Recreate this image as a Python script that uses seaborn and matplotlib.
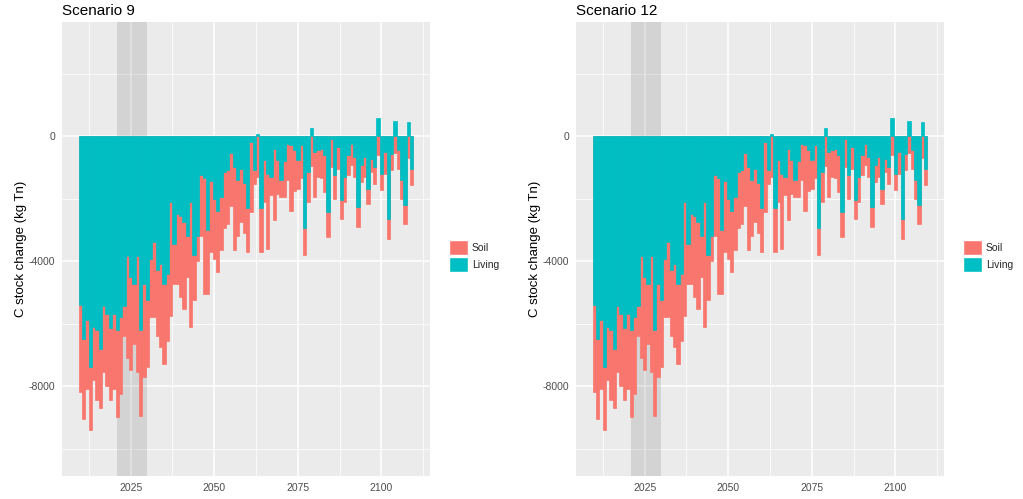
import numpy as np
import pandas as pd
import matplotlib
matplotlib.use('Agg')
import matplotlib.pyplot as plt
from matplotlib.patches import Patch
import seaborn as sns

# Yearly carbon stock change (kg Tn)
years = list(range(2010, 2110))
living = [
    -5400, -6500, -5900, -7400, -6100, -6200, -6800, -5450, -5700, -6150,
    -5700, -6200, -5800, -5450, -3850, -4500, -4750, -3850, -6200, -4750,
    -5250, -3950, -3400, -4300, -4100, -4750, -4400, -2100, -3450, -2500,
    -2550, -2750, -3200, -2100, -3800, -3200, -1250, -1350, -3000, -1450,
    -2000, -2400, -1950, -1150, -1100, -550, -1000, -1400, -1050, -1500,
    -2300, -180, -1090, 80, -2300, -770, -1200, -1300, -400, -770,
    -1400, -800, -250, -300, -450, -770, -300, -2950, -1150, 250,
    -500, -450, -400, -600, -2420, -80, -1250, -340, -2050, -1300,
    -610, -240, -660, -2260, -930, -660, -1680, -720, -980, 565,
    -1200, -500, -2640, -560, 490, -450, -1410, -2210, 460, -1040,
]
soil = [
    -2800, -2550, -2200, -2000, -1700, -2250, -1900, -2100, -2300, -2300,
    -2400, -2800, -2450, -950, -3250, -3000, -1900, -3700, -2750, -2950,
    -2150, -1850, -2400, -2100, -2650, -2550, -2150, -3650, -1300, -2250,
    -2600, -2800, -1300, -4000, -1450, -800, -1950, -3700, -2050, -2250,
    -1950, -1950, -1700, -1800, -1700, -1700, -2650, -1800, -1700, -1600,
    -1400, -2240, -430, -1300, -1400, -1330, -2400, -600, -2300, -1080,
    -550, -1150, -1150, -2100, -1300, -910, -1050, -850, -950, -950,
    -1450, -850, -950, -1180, -800, -900, -750, -700, -590, -800,
    -640, -690, -640, -640, -530, -640, -480, -420, -540, -600,
    -530, -700, -640, -530, -550, -590, -590, -590, -700, -530,
]
scenarios = ["Scenario 9", "Scenario 12"]
window = (2021, 2030)

SOIL_COLOR = "#F8766D"
LIVING_COLOR = "#00BFC4"

sns.set_theme(style="darkgrid")
plt.rcParams['font.family'] = ['Liberation Sans', 'DejaVu Sans']
plt.rcParams['axes.unicode_minus'] = False

df = pd.DataFrame({"year": years, "Living": living, "Soil": soil})
# negative parts stack downward from zero: living first, soil below it
df["below"] = df["Living"].clip(upper=0) + df["Soil"].clip(upper=0)

fig = plt.figure(figsize=(10.23, 4.99), dpi=100)
W, H = 1023, 499
panel_left = [62, 576]
legend_left = [449, 963]


def draw_panel(ax, title):
    ax.set_facecolor("#EBEBEB")
    ax.axvspan(*window, color="black", alpha=0.1, lw=0, zorder=0.6)
    sns.barplot(data=df, x="year", y="below", native_scale=True, width=1,
                color=SOIL_COLOR, saturation=1, errorbar=None,
                edgecolor=SOIL_COLOR, linewidth=0.5, ax=ax, zorder=2)
    sns.barplot(data=df, x="year", y="Living", native_scale=True, width=1,
                color=LIVING_COLOR, saturation=1, errorbar=None,
                edgecolor=LIVING_COLOR, linewidth=0.5, ax=ax, zorder=3)
    ax.set_xlim(2004.5, 2114.5)
    ax.set_ylim(-10880, 3650)
    ax.set_xticks([2025, 2050, 2075, 2100])
    ax.set_xticks([2012.5, 2037.5, 2062.5, 2087.5, 2112.5], minor=True)
    ax.set_yticks([-8000, -4000, 0])
    ax.set_yticks([-10000, -6000, -2000, 2000], minor=True)
    ax.set_yticklabels(["-8000", "-4000", "0"])
    ax.grid(which="major", color="white", lw=1.1, zorder=0.5)
    ax.grid(which="minor", color="white", lw=0.55, zorder=0.5)
    ax.set_axisbelow(True)
    ax.tick_params(which="major", length=3.5, width=0.8, color="#333333",
                   labelcolor="#4D4D4D", labelsize=7.5, pad=1.5)
    ax.tick_params(which="minor", length=0)
    for s in ax.spines.values():
        s.set_visible(False)
    ax.set_xlabel("")
    ax.set_ylabel("C stock change (kg Tn)", fontsize=9.5, color="black", labelpad=1)
    ax.set_title(title, loc="left", fontsize=11, pad=5, color="black")


for i, name in enumerate(scenarios):
    ax = fig.add_axes([panel_left[i] / W, 23 / H, 368 / W, 454 / H])
    draw_panel(ax, name)
    handles = [Patch(facecolor=SOIL_COLOR, label="Soil"),
               Patch(facecolor=LIVING_COLOR, label="Living")]
    fig.legend(handles=handles, loc="center left",
               bbox_to_anchor=(legend_left[i] / W, 1 - 256 / H),
               frameon=False, fontsize=7.5, handlelength=1.8, handleheight=1.8,
               handletextpad=0.4, labelspacing=0.15, borderaxespad=0, borderpad=0)

fig.savefig("out.png", dpi=100)
